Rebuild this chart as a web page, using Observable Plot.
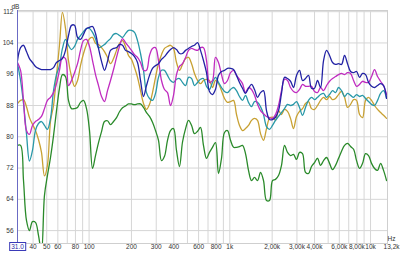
<!DOCTYPE html>
<html><head><meta charset="utf-8">
<script src="https://cdn.jsdelivr.net/npm/d3@7"></script>
<script src="https://cdn.jsdelivr.net/npm/@observablehq/plot@0.6"></script>
<style>html,body{margin:0;padding:0;background:#fff;} #chart svg{display:block;}</style>
</head><body><div id="chart"></div>
<script>
const freqs = [31.0,32.6,34.2,35.9,37.7,39.6,41.6,43.7,45.9,48.2,
50.6,53.2,55.9,58.7,61.6,64.7,68.0,71.4,75.0,78.8,
82.8,86.9,91.3,95.9,100.7,105.8,111.1,116.7,122.6,128.7,
135.2,142.0,149.2,156.7,164.5,172.8,181.5,190.6,200.2,210.3,
220.9,232.0,243.7,255.9,268.8,282.3,296.5,311.4,327.1,343.5,
360.8,379,398,418,439,461,485,509,535,561,
590,619,650,683,717,753,791,831,873,917,
963,1012,1063,1116,1172,1231,1293,1358,1427,1498,
1574,1653,1736,1823,1915,2011,2112,2219,2330,2448,
2571,2700,2836,2979,3129,3286,3451,3625,3807,3999,
4200,4414,4636,4869,5114,5371,5641,5925,6223,6536,
6865,7212,7575,7956,8356,8776,9218,9681,10168,10680,
11217,11782,12374,12996];

const greenDB = [77.8,77.8,68.8,58.6,56.0,58.3,58.1,54.8,50.5,65.0,
70.1,74.7,80.3,86.7,92.4,95.9,95.4,89.3,87.2,87.2,
87.5,88.8,89.3,87.2,81.6,71.9,75.2,78.5,81.3,83.9,
84.1,83.1,83.9,84.9,86.4,87.4,87.9,88.4,88.4,88.2,
88.4,88.4,87.5,86.2,85.2,83.7,81.6,79.1,73.9,75.0,
79.1,81.6,82.1,76.5,72.4,78.6,82.1,84.2,82.9,80.8,
81.4,82.4,77.8,74.5,76.0,77.3,78.5,70.6,74.5,81.1,
81.6,79.1,77.3,77.3,77.5,77.8,75.7,71.4,68.8,69.6,
68.8,70.9,68.8,63.7,63.7,68.8,69.1,70.1,72.7,77.8,
76.0,75.2,75.5,74.2,76.0,75.7,70.9,70.6,72.4,73.4,
74.5,72.7,73.9,74.7,73.2,71.6,72.7,74.5,76.3,77.8,
78.3,77.5,76.8,73.9,71.9,73.2,75.7,75.2,73.2,71.9,
71.4,73.2,71.4,68.8];

const goldDB = [88.5,89.3,89.5,87.7,84.9,83.2,81.6,79.3,76.0,70.0,
72.7,84.0,88.0,95.7,103.4,111.8,107.7,99.5,95.4,92.9,
94.4,98.2,101.3,103.6,105.1,105.4,103.9,103.6,102.8,101.8,
100.3,98.7,100.0,102.1,103.9,104.6,103.1,100.8,99.8,97.7,
95.2,91.8,88.5,87.0,88.3,91.3,95.2,98.7,101.0,102.6,
103.1,103.4,102.6,99.0,97.0,98.5,100.0,100.3,98.7,96.2,
94.4,93.6,94.4,94.7,94.4,92.6,94.4,93.6,91.8,89.8,
88.8,89.0,89.3,85.7,82.9,81.6,82.1,82.9,84.2,84.7,
84.2,80.8,79.1,82.1,84.7,85.0,84.2,86.7,85.7,87.0,
86.5,84.7,82.1,85.2,86.5,87.2,88.5,89.0,87.2,87.0,
88.0,89.3,90.1,89.5,90.3,89.5,89.8,90.8,91.6,90.1,
87.5,88.3,89.5,89.3,85.7,84.9,89.3,90.1,89.3,88.0,
87.0,86.2,85.5,84.7];

const tealDB = [98.7,94.4,88.5,80.8,73.8,76.5,81.6,83.4,83.9,82.9,
81.9,84.7,91.8,95.9,98.2,102.6,104.9,103.4,102.3,103.1,
104.9,105.9,106.9,107.7,107.7,106.7,105.1,102.8,103.1,103.6,
104.4,105.1,106.2,106.4,105.9,105.4,106.4,107.2,107.2,106.7,
104.6,101.3,97.0,91.3,89.8,89.3,91.1,95.2,97.0,97.0,
95.7,94.4,93.9,94.7,94.9,93.9,93.1,95.2,94.9,93.1,
93.9,94.7,94.9,92.9,92.1,93.9,95.2,93.9,92.6,91.6,
91.3,92.1,92.6,91.8,90.3,89.3,90.6,88.8,87.7,89.0,
88.8,87.7,85.7,82.6,81.9,82.9,84.2,85.2,86.2,87.2,
88.3,88.0,88.3,89.0,87.5,85.5,87.5,89.3,90.1,89.5,
90.1,90.8,91.1,90.1,90.8,91.8,91.3,92.6,91.8,90.3,
91.1,90.6,90.1,90.8,90.3,90.6,89.8,89.0,88.3,88.0,
89.3,91.1,91.8,89.8];

const magentaDB = [99.0,97.0,89.3,81.6,80.6,82.9,83.9,84.4,85.2,87.2,
89.3,90.1,91.3,93.6,97.0,100.3,100.0,93.1,94.4,96.4,
98.7,102.1,104.6,104.9,103.1,99.5,95.9,93.1,90.3,89.0,
91.8,94.4,97.2,100.3,103.1,105.1,104.1,103.1,102.1,101.0,
100.3,99.0,97.0,97.0,100.8,102.6,102.8,99.5,94.4,92.1,
91.3,88.0,90.6,95.9,98.0,98.7,100.3,102.1,102.6,102.3,
102.1,102.8,102.8,99.5,93.9,94.4,100.3,99.0,95.9,93.6,
94.4,96.4,97.0,95.7,94.7,93.6,91.3,92.6,92.1,90.6,
88.3,86.7,85.9,85.2,84.9,84.7,85.7,88.0,91.8,94.7,
94.4,92.6,91.6,91.3,92.1,93.4,92.9,92.9,92.9,91.6,
91.3,92.6,91.8,93.1,94.2,94.9,95.4,95.9,96.2,95.9,
96.4,96.2,94.4,92.9,93.4,94.2,93.9,93.9,95.4,97.2,
95.4,94.2,93.1,90.8];

const navyDB = [99.5,102.8,103.4,101.8,100.0,99.0,98.0,97.5,97.2,97.2,
97.2,97.2,97.7,99.0,99.5,100.0,102.1,105.9,108.5,108.5,
105.4,104.9,106.2,107.7,108.0,108.2,106.4,102.6,99.3,97.0,
99.3,102.1,102.6,102.8,103.6,103.4,102.1,101.8,101.3,100.5,
99.0,94.4,90.3,93.1,95.7,97.5,98.2,98.7,99.8,100.5,
101.5,102.3,102.8,102.3,101.3,101.3,102.1,102.6,103.1,103.4,
104.1,102.1,99.5,96.4,91.6,90.8,92.1,95.7,96.7,97.0,
97.5,97.5,97.2,95.7,93.9,92.4,91.1,92.4,93.4,92.1,
90.1,91.3,91.8,86.7,84.4,84.4,85.0,86.7,91.1,95.2,
94.9,94.2,92.6,95.7,97.0,94.4,94.9,95.7,92.4,92.4,
94.4,92.6,99.5,102.1,100.8,99.0,98.5,98.7,98.5,100.8,
98.7,96.7,96.4,96.7,95.2,96.2,95.9,93.9,92.9,92.6,
93.1,93.6,93.1,89.8];

const seriesNames = ["Meas 5", "Meas 4", "Meas 3", "Meas 2", "Meas 1"];
const seriesColors = ["#2a8a2a", "#c8a133", "#2898a8", "#c02cc0", "#2222a4"];
const xTicks = [31, 40, 50, 60, 80, 100, 200, 300, 400, 600, 800, 1000, 2000, 3000, 4000, 6000, 8000, 10000];
const xTickLabels = ["31.0", "40", "50", "60", "80", "100", "200", "300", "400", "600", "800", "1k", "2,00k", "3,00k", "4,00k", "6,00k", "8,00k", "10k"];
const xEnd = [13200];
const xEndLabel = ["13,2k"];
const xGrid = [40, 50, 60, 70, 80, 90, 100, 200, 300, 400, 500, 600, 700, 800, 900, 1000, 2000, 3000, 4000, 5000, 6000, 7000, 8000, 9000, 10000];
const yTicks = [56, 64, 72, 80, 88, 96, 104, 112];

const valuesBySeries = [greenDB, goldDB, tealDB, magentaDB, navyDB];
const rows = [];
seriesNames.forEach((s, j) => {
  valuesBySeries[j].forEach((v, i) => rows.push({f: freqs[i], db: v, s}));
});

const chart = Plot.plot({
  width: 400, height: 253,
  marginLeft: 17, marginRight: 13, marginTop: 10, marginBottom: 10,
  style: {fontFamily: "'Liberation Sans', Arial, sans-serif", fontSize: "6.5px", color: "#333", background: "#fff"},
  x: {type: "log", domain: [31, 13200], label: null, axis: null},
  y: {domain: [52.7, 112.3], label: null, axis: null},
  color: {domain: seriesNames, range: seriesColors},
  marks: [
    Plot.gridX(xGrid, {stroke: "#d6d6d6", strokeOpacity: 1}),
    Plot.gridY(yTicks, {stroke: "#d6d6d6", strokeOpacity: 1}),
    Plot.frame({stroke: "#cfcfcf"}),
    Plot.line(rows, {x: "f", y: "db", z: "s", stroke: "s", strokeWidth: 1.3, curve: "catmull-rom", clip: true}),
    Plot.ruleX([31], {stroke: "#6b6bc4"}),
    Plot.text(xTicks, {x: d => d, text: (d, i) => xTickLabels[i], frameAnchor: "bottom", dy: 5.5, fill: "#333"}),
    Plot.text(xEnd, {x: d => d, text: (d, i) => xEndLabel[i], frameAnchor: "bottom", dy: 5.5, dx: 12, textAnchor: "end", fill: "#333"}),
    Plot.text(yTicks, {y: d => d, text: d => String(d), frameAnchor: "left", textAnchor: "end", dx: -4, fill: "#333"}),
    Plot.text(["dB"], {frameAnchor: "top-left", dx: -6, dy: -6, fill: "#333"}),
    Plot.text(["Hz"], {frameAnchor: "bottom-right", dx: 8, dy: -3, fill: "#333"})
  ]
});
document.getElementById("chart").appendChild(chart);

// box around the start-frequency label
for (const t of chart.querySelectorAll("text")) {
  if (t.textContent === "31.0") {
    const b = t.getBBox();
    const r = document.createElementNS("http://www.w3.org/2000/svg", "rect");
    r.setAttribute("x", b.x - 1.5); r.setAttribute("y", b.y - 0.5);
    r.setAttribute("width", b.width + 3); r.setAttribute("height", b.height + 1);
    r.setAttribute("fill", "#fff"); r.setAttribute("stroke", "#3a3ab8");
    const m = t.getAttribute("transform");
    if (m) r.setAttribute("transform", m);
    t.parentNode.insertBefore(r, t);
    t.setAttribute("fill", "#2a2aa8");
  }
}
</script></body></html>
